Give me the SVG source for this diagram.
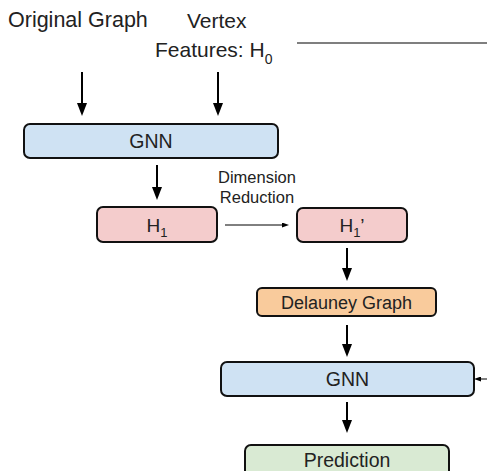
<svg xmlns="http://www.w3.org/2000/svg" width="487" height="471" viewBox="0 0 487 471">
  <style>
    .lbl { font-family: "Liberation Sans", Arial, sans-serif; fill: #222; }
    .box { stroke: #111; stroke-width: 2; }
    .thick { stroke: #000; stroke-width: 2; fill: none; }
    .thin { stroke: #000; stroke-width: 1; fill: none; }
  </style>
  <defs>
    <marker id="headBig" markerUnits="userSpaceOnUse" viewBox="0 0 13 10" refX="3" refY="5" markerWidth="13" markerHeight="10" orient="auto">
      <path d="M0,0 L13,5 L0,10 z" fill="#000"/>
    </marker>
    <marker id="headSmall" markerUnits="userSpaceOnUse" viewBox="0 0 7 5" refX="2" refY="2.5" markerWidth="7" markerHeight="5" orient="auto">
      <path d="M0,0 L7,2.5 L0,5 z" fill="#000"/>
    </marker>
  </defs>
  <rect width="487" height="471" fill="#fff"/>

  <g id="labels">
    <text class="lbl" x="8" y="27" font-size="21.5">Original Graph</text>
    <text class="lbl" x="187" y="28" font-size="21">Vertex</text>
    <text class="lbl" x="155" y="57" font-size="21">Features: H<tspan font-size="14" dy="7">0</tspan></text>
    <text class="lbl" x="257" y="183" font-size="16.5" text-anchor="middle">Dimension</text>
    <text class="lbl" x="257" y="203" font-size="16.5" text-anchor="middle">Reduction</text>
  </g>

  <g id="gnn1">
    <rect class="box" x="24" y="124" width="254" height="34" rx="6" fill="#cfe2f3"/>
    <text class="lbl" x="151" y="148" font-size="19.5" text-anchor="middle">GNN</text>
  </g>
  <g id="h1">
    <rect class="box" x="97" y="207" width="120" height="35" rx="6" fill="#f4cccc"/>
    <text class="lbl" x="157" y="232" font-size="19" text-anchor="middle">H<tspan font-size="13" dy="5">1</tspan></text>
  </g>
  <g id="h1prime">
    <rect class="box" x="297" y="208" width="110" height="34" rx="6" fill="#f4cccc"/>
    <text class="lbl" x="352" y="232" font-size="19" text-anchor="middle">H<tspan font-size="13" dy="5">1</tspan><tspan dy="-5">’</tspan></text>
  </g>
  <g id="delauney">
    <rect class="box" x="257" y="288" width="179" height="28" rx="5" fill="#f9cb9c"/>
    <text class="lbl" x="346.5" y="309" font-size="18" text-anchor="middle">Delauney Graph</text>
  </g>
  <g id="gnn2">
    <rect class="box" x="221" y="362" width="253" height="34" rx="6" fill="#cfe2f3"/>
    <text class="lbl" x="347.5" y="386" font-size="19.5" text-anchor="middle">GNN</text>
  </g>
  <g id="prediction">
    <rect class="box" x="245" y="445" width="204" height="40" rx="6" fill="#d9ead3"/>
    <text class="lbl" x="347" y="467" font-size="19.5" text-anchor="middle">Prediction</text>
  </g>

  <g id="connectors">
    <line x1="297" y1="43" x2="487" y2="43" stroke="#555" stroke-width="1.5"/>
    <line class="thick" x1="82" y1="72" x2="82" y2="106" marker-end="url(#headBig)"/>
    <line class="thick" x1="218" y1="72" x2="218" y2="106" marker-end="url(#headBig)"/>
    <line class="thick" x1="157" y1="165" x2="157" y2="190" marker-end="url(#headBig)"/>
    <line class="thin" x1="225" y1="225" x2="284" y2="225" marker-end="url(#headSmall)"/>
    <line class="thick" x1="347" y1="248" x2="347" y2="271" marker-end="url(#headBig)"/>
    <line class="thick" x1="347" y1="325" x2="347" y2="347" marker-end="url(#headBig)"/>
    <line class="thick" x1="347" y1="402" x2="347" y2="423" marker-end="url(#headBig)"/>
    <line class="thin" x1="487" y1="379" x2="479" y2="379" marker-end="url(#headSmall)"/>
  </g>
</svg>
